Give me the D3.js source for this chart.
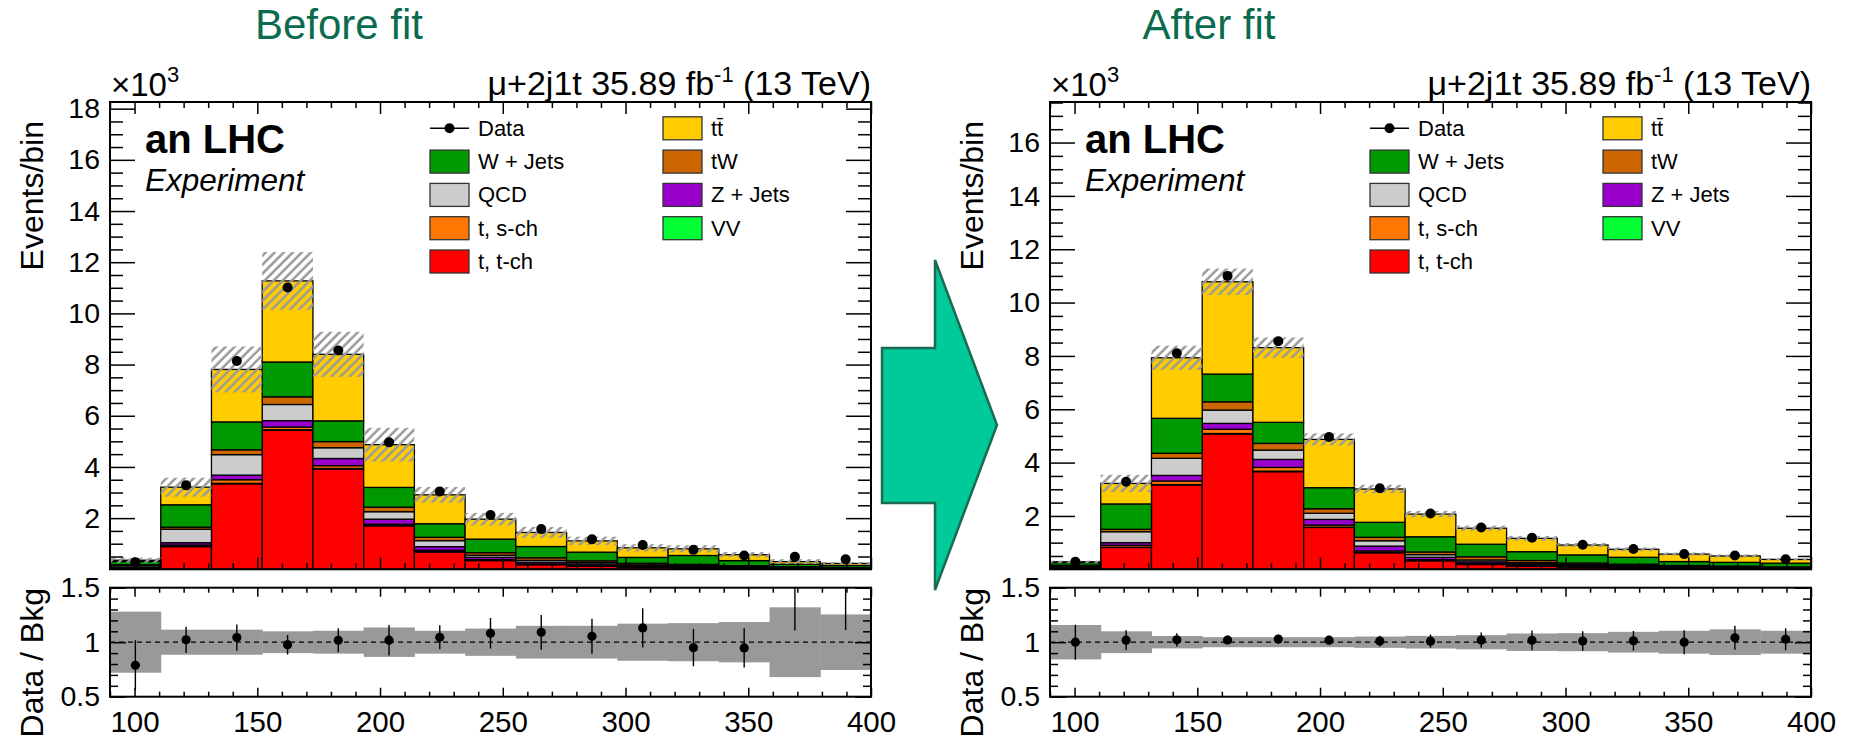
<!DOCTYPE html>
<html><head><meta charset="utf-8">
<script src="https://cdn.jsdelivr.net/npm/d3@7"></script>
<style>
body{margin:0;background:#fff}
svg{display:block}
text{font-family:"Liberation Sans",Arial,Helvetica,sans-serif;fill:#000}
</style>
</head><body>
<svg id="c" width="1849" height="739"></svg>
<script>
// ---------------- DATA ----------------
const binEdges = [90, 110.67, 131.33, 152, 172.67, 193.33, 214, 234.67, 255.33, 276, 296.67, 317.33, 338, 358.67, 379.33, 400];
const xTickLabels = [100, 150, 200, 250, 300, 350, 400];
const ratioTickLabels = [0.5, 1, 1.5];

// stacking order, bottom -> top
const stackKeys = ["tch", "vv", "sch", "zj", "qcd", "tw", "wj", "tt"];
const stackColors = {tch:"#ff0000", vv:"#00ff33", sch:"#ff7700", zj:"#9900cc", qcd:"#cccccc", tw:"#cc6600", wj:"#009900", tt:"#ffcc00"};

// Before fit (x10^3 events / bin)
const preTch = [0.06, 0.886, 3.34, 5.43, 3.92, 1.70, 0.68, 0.34, 0.18, 0.12, 0.08, 0.06, 0.04, 0.03, 0.02];
const preVV  = [0.005, 0.01, 0.02, 0.02, 0.02, 0.01, 0.01, 0.01, 0.01, 0.01, 0.005, 0.005, 0.005, 0.003, 0.002];
const preSch = [0.01, 0.054, 0.14, 0.11, 0.11, 0.05, 0.05, 0.03, 0.02, 0.01, 0.01, 0.005, 0.005, 0.003, 0.002];
const preZj  = [0.02, 0.09, 0.18, 0.25, 0.28, 0.20, 0.146, 0.09, 0.07, 0.06, 0.04, 0.03, 0.02, 0.015, 0.01];
const preQCD = [0.06, 0.527, 0.80, 0.63, 0.42, 0.29, 0.234, 0.08, 0.07, 0.06, 0.04, 0.04, 0.03, 0.02, 0.015];
const preTW  = [0.02, 0.078, 0.19, 0.30, 0.24, 0.18, 0.13, 0.10, 0.10, 0.07, 0.06, 0.05, 0.04, 0.03, 0.02];
const preWj  = [0.13, 0.875, 1.09, 1.36, 0.81, 0.77, 0.53, 0.53, 0.44, 0.34, 0.23, 0.35, 0.20, 0.10, 0.08];
const preTT  = [0.05, 0.69, 2.05, 3.17, 2.60, 1.67, 1.13, 0.78, 0.55, 0.44, 0.375, 0.26, 0.23, 0.10, 0.08];
const preData = [0.28, 3.28, 8.14, 11.01, 8.55, 4.96, 3.04, 2.12, 1.57, 1.17, 0.95, 0.76, 0.54, 0.49, 0.39];
const preRatioErr = [0.23, 0.12, 0.12, 0.09, 0.11, 0.14, 0.11, 0.14, 0.16, 0.16, 0.18, 0.17, 0.18, 0.52, 0.59];
const preUnc = [0.28, 0.115, 0.115, 0.10, 0.105, 0.135, 0.105, 0.125, 0.15, 0.15, 0.17, 0.175, 0.185, 0.32, 0.255];

// After fit
const postTch = [0.05, 0.82, 3.16, 5.07, 3.66, 1.57, 0.62, 0.32, 0.18, 0.12, 0.08, 0.06, 0.04, 0.035, 0.025];
const postVV  = [0.005, 0.01, 0.02, 0.02, 0.02, 0.01, 0.01, 0.01, 0.01, 0.01, 0.005, 0.005, 0.005, 0.003, 0.002];
const postSch = [0.01, 0.07, 0.13, 0.16, 0.14, 0.08, 0.06, 0.03, 0.02, 0.01, 0.01, 0.005, 0.005, 0.004, 0.003];
const postZj  = [0.02, 0.10, 0.21, 0.22, 0.30, 0.21, 0.18, 0.09, 0.07, 0.06, 0.04, 0.03, 0.02, 0.02, 0.015];
const postQCD = [0.05, 0.41, 0.64, 0.50, 0.35, 0.23, 0.20, 0.10, 0.07, 0.05, 0.04, 0.04, 0.03, 0.025, 0.02];
const postTW  = [0.02, 0.09, 0.19, 0.31, 0.25, 0.17, 0.13, 0.10, 0.12, 0.08, 0.06, 0.05, 0.04, 0.033, 0.025];
const postWj  = [0.10, 0.95, 1.31, 1.04, 0.79, 0.79, 0.56, 0.57, 0.47, 0.33, 0.305, 0.26, 0.15, 0.14, 0.14];
const postTT  = [0.025, 0.77, 2.27, 3.46, 2.80, 1.81, 1.25, 0.85, 0.60, 0.50, 0.37, 0.30, 0.28, 0.24, 0.14];
const postData = [0.28, 3.28, 8.10, 11.0, 8.55, 4.96, 3.04, 2.09, 1.57, 1.18, 0.92, 0.76, 0.57, 0.52, 0.38];
const postRatioErr = [0.16, 0.09, 0.06, 0.04, 0.04, 0.04, 0.05, 0.06, 0.07, 0.09, 0.09, 0.09, 0.11, 0.11, 0.10];
const postUnc = [0.158, 0.10, 0.057, 0.046, 0.046, 0.046, 0.052, 0.058, 0.065, 0.08, 0.083, 0.095, 0.105, 0.118, 0.105];

const legendCol1 = [{k:"data", label:"Data"}, {k:"wj", label:"W + Jets"}, {k:"qcd", label:"QCD"}, {k:"sch", label:"t, s-ch"}, {k:"tch", label:"t, t-ch"}];
const legendCol2 = [{k:"tt", label:"tt\u0304"}, {k:"tw", label:"tW"}, {k:"zj", label:"Z + Jets"}, {k:"vv", label:"VV"}];

// ---------------- LAYOUT ----------------
const W = 761, mainTop = 102, mainBottom = 569.3, ratioTop = 587.7, ratioBottom = 696.7;
const svg = d3.select("#c");
const defs = svg.append("defs");
const pat = defs.append("pattern").attr("id","hatch").attr("patternUnits","userSpaceOnUse")
  .attr("width",6.4).attr("height",6.4).attr("patternTransform","rotate(45)");
pat.append("line").attr("x1",1.5).attr("y1",0).attr("x2",1.5).attr("y2",6.4)
  .attr("stroke","#9a9a9a").attr("stroke-width",2.5);

function drawPanel(cfg) {
  const g = svg.append("g");
  const x0 = cfg.x0;
  const x = d3.scaleLinear().domain([90,400]).range([x0, x0+W]);
  const y = d3.scaleLinear().domain([0,cfg.ymax]).range([mainBottom, mainTop]);
  const yr = d3.scaleLinear().domain([0.5,1.5]).range([ratioBottom, ratioTop]);

  const cid = "clipM"+cfg.id, rid = "clipR"+cfg.id;
  defs.append("clipPath").attr("id",cid).append("rect").attr("x",x0).attr("y",mainTop).attr("width",W).attr("height",mainBottom-mainTop);
  defs.append("clipPath").attr("id",rid).append("rect").attr("x",x0).attr("y",ratioTop).attr("width",W).attr("height",ratioBottom-ratioTop);

  const rows = binEdges.slice(0,-1).map((lo,i)=>{
    const o = {lo:lo, hi:binEdges[i+1], data:cfg.data[i], err:cfg.rerr[i], unc:cfg.unc[i]};
    stackKeys.forEach(k=>{o[k]=cfg.series[k][i];});
    return o;
  });
  rows.forEach(r=>{ r.total = d3.sum(stackKeys, k=>r[k]); r.ratio = r.data/r.total; });
  const layers = d3.stack().keys(stackKeys)(rows);

  const gm = g.append("g").attr("clip-path","url(#"+cid+")");
  layers.forEach(layer=>{
    gm.append("g").selectAll("rect").data(layer).join("rect")
      .attr("x",d=>x(d.data.lo)).attr("width",d=>x(d.data.hi)-x(d.data.lo))
      .attr("y",d=>y(d[1])).attr("height",d=>Math.max(0,y(d[0])-y(d[1])))
      .attr("fill",stackColors[layer.key]).attr("stroke","#000").attr("stroke-width",1.3);
  });
  // uncertainty hatch
  gm.append("g").selectAll("rect").data(rows).join("rect")
    .attr("x",d=>x(d.lo)).attr("width",d=>x(d.hi)-x(d.lo))
    .attr("y",d=>y(d.total*(1+d.unc))).attr("height",d=>y(d.total*(1-d.unc))-y(d.total*(1+d.unc)))
    .attr("fill","url(#hatch)");
  // data
  gm.append("g").selectAll("circle").data(rows).join("circle")
    .attr("cx",d=>x((d.lo+d.hi)/2)).attr("cy",d=>y(d.data)).attr("r",5).attr("fill","#000");

  // ratio
  const gr = g.append("g").attr("clip-path","url(#"+rid+")");
  gr.append("g").selectAll("rect").data(rows).join("rect")
    .attr("x",d=>x(d.lo)).attr("width",d=>x(d.hi)-x(d.lo)+0.5)
    .attr("y",d=>yr(1+d.unc)).attr("height",d=>yr(1-d.unc)-yr(1+d.unc))
    .attr("fill","#999999");
  gr.append("line").attr("x1",x0).attr("x2",x0+W).attr("y1",yr(1)).attr("y2",yr(1))
    .attr("stroke","#000").attr("stroke-width",1.2).attr("stroke-dasharray","5,4");
  gr.append("g").selectAll("line").data(rows).join("line")
    .attr("x1",d=>x((d.lo+d.hi)/2)).attr("x2",d=>x((d.lo+d.hi)/2))
    .attr("y1",d=>yr(d.ratio+d.err)).attr("y2",d=>yr(d.ratio-d.err))
    .attr("stroke","#000").attr("stroke-width",1.4);
  gr.append("g").selectAll("circle").data(rows).join("circle")
    .attr("cx",d=>x((d.lo+d.hi)/2)).attr("cy",d=>yr(d.ratio)).attr("r",4.6).attr("fill","#000");

  // frames
  [[mainTop,mainBottom],[ratioTop,ratioBottom]].forEach(([t,b])=>{
    g.append("rect").attr("x",x0).attr("y",t).attr("width",W).attr("height",b-t)
      .attr("fill","none").attr("stroke","#000").attr("stroke-width",2);
  });

  // ticks helper
  function ticks(axisFn, scale, vals, size, tf, translate, pad, fs) {
    const a = axisFn(scale).tickValues(vals).tickSize(size).tickPadding(pad||0);
    if (tf) a.tickFormat(tf); else a.tickFormat("");
    const ga = g.append("g").attr("transform",translate).call(a);
    ga.select(".domain").remove();
    ga.selectAll("line").attr("stroke","#000").attr("stroke-width",1.5);
    ga.selectAll("text").style("font-size",(fs||28)+"px").style("font-family","'Liberation Sans',Arial,sans-serif").attr("fill","#000");
    return ga;
  }
  const xMinor = d3.range(90,401,10).filter(v=>v%50!==0);
  const yMaj = d3.range(2, cfg.ymax, 2);
  const yMin = d3.range(0.5, cfg.ymax, 0.5).filter(v=>v%2!==0);
  // main x ticks
  ticks(d3.axisBottom, x, xTickLabels, -12, null, `translate(0,${mainBottom})`);
  ticks(d3.axisBottom, x, xMinor, -6, null, `translate(0,${mainBottom})`);
  ticks(d3.axisTop, x, xTickLabels, -12, null, `translate(0,${mainTop})`);
  ticks(d3.axisTop, x, xMinor, -6, null, `translate(0,${mainTop})`);
  // main y ticks
  ticks(d3.axisLeft, y, yMaj, -25, d3.format("d"), `translate(${x0},0)`, 10, 28.5);
  ticks(d3.axisLeft, y, yMin, -13, null, `translate(${x0},0)`);
  ticks(d3.axisRight, y, yMaj, -25, null, `translate(${x0+W},0)`);
  ticks(d3.axisRight, y, yMin, -13, null, `translate(${x0+W},0)`);
  // ratio x ticks
  ticks(d3.axisBottom, x, xTickLabels, -9, d3.format("d"), `translate(0,${ratioBottom})`, 14, 29.5);
  ticks(d3.axisBottom, x, xMinor, -5, null, `translate(0,${ratioBottom})`);
  ticks(d3.axisTop, x, xTickLabels, -9, null, `translate(0,${ratioTop})`);
  ticks(d3.axisTop, x, xMinor, -5, null, `translate(0,${ratioTop})`);
  // ratio y ticks
  const rMin = d3.range(0.6,1.45,0.1).filter(v=>Math.abs(v-1)>0.01);
  ticks(d3.axisLeft, yr, ratioTickLabels, -16, d=>String(d), `translate(${x0},0)`, 10, 28.5);
  ticks(d3.axisLeft, yr, rMin, -8, null, `translate(${x0},0)`);
  ticks(d3.axisRight, yr, ratioTickLabels, -16, null, `translate(${x0+W},0)`);
  ticks(d3.axisRight, yr, rMin, -8, null, `translate(${x0+W},0)`);

  // axis titles
  g.append("text").attr("transform",`translate(${x0-67},121) rotate(-90)`).attr("text-anchor","end")
    .style("font-size","32px").text("Events/bin");
  g.append("text").attr("transform",`translate(${x0-67},588) rotate(-90)`).attr("text-anchor","end")
    .style("font-size","32px").text("Data / Bkg");

  // x10^3
  const tx = g.append("text").attr("x",x0+1).attr("y",96).style("font-size","33px");
  tx.append("tspan").text("\u00d710");
  tx.append("tspan").attr("dy",-14).style("font-size","22px").text("3");
  // lumi label
  const tl = g.append("text").attr("x",x0+W).attr("y",95).attr("text-anchor","end").style("font-size","34px");
  tl.append("tspan").text("\u03bc+2j1t 35.89 fb");
  tl.append("tspan").attr("dy",-13).style("font-size","22px").text("-1");
  tl.append("tspan").attr("dy",13).text(" (13 TeV)");
  // panel title
  g.append("text").attr("x",cfg.titleX).attr("y",39).attr("text-anchor","middle")
    .style("font-size","42px").style("fill","#0b6b4f").text(cfg.title);
  // experiment labels
  g.append("text").attr("x",x0+35).attr("y",153).style("font-size","40px").style("font-weight","bold").text("an LHC");
  g.append("text").attr("x",x0+35).attr("y",191).style("font-size","31.5px").style("font-style","italic").text("Experiment");

  // legend
  const rowY = i => 128.3 + 33.3*i;
  function legendEntry(e, bx, i) {
    const cy = rowY(i);
    if (e.k === "data") {
      g.append("line").attr("x1",bx).attr("x2",bx+39).attr("y1",cy).attr("y2",cy).attr("stroke","#000").attr("stroke-width",1.5);
      g.append("circle").attr("cx",bx+19.5).attr("cy",cy).attr("r",5).attr("fill","#000");
    } else {
      g.append("rect").attr("x",bx).attr("y",cy-11.5).attr("width",39).attr("height",23)
        .attr("fill",stackColors[e.k]).attr("stroke","#333").attr("stroke-width",1.3);
    }
    g.append("text").attr("x",bx+48).attr("y",cy+7.5).style("font-size","22px").text(e.label);
  }
  legendCol1.forEach((e,i)=>legendEntry(e, x0+320, i));
  legendCol2.forEach((e,i)=>legendEntry(e, x0+553, i));
}

drawPanel({id:"pre", x0:110, ymax:18.26, title:"Before fit", titleX:339,
  series:{tch:preTch, vv:preVV, sch:preSch, zj:preZj, qcd:preQCD, tw:preTW, wj:preWj, tt:preTT},
  data:preData, rerr:preRatioErr, unc:preUnc});
drawPanel({id:"post", x0:1050, ymax:17.52, title:"After fit", titleX:1209,
  series:{tch:postTch, vv:postVV, sch:postSch, zj:postZj, qcd:postQCD, tw:postTW, wj:postWj, tt:postTT},
  data:postData, rerr:postRatioErr, unc:postUnc});

// arrow between panels
svg.append("polygon")
  .attr("points",[[882,348],[935,348],[935,260],[997,425],[935,590],[935,503],[882,503]].map(p=>p.join(",")).join(" "))
  .attr("fill","#00c99a").attr("stroke","#1b6b52").attr("stroke-width",2.5).attr("stroke-linejoin","miter");
</script>
</body></html>
